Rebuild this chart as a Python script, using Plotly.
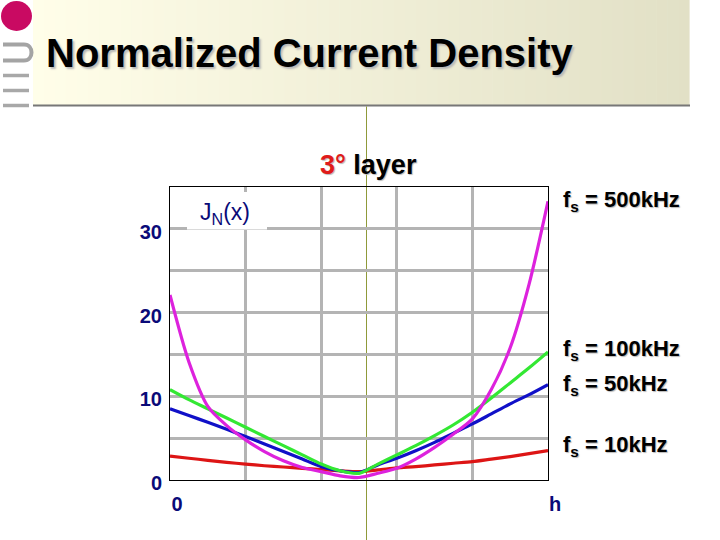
import plotly.graph_objects as go

# --- data ---
X_POS = [0.0, 0.05, 0.1, 0.15, 0.2, 0.25, 0.3, 0.35, 0.4, 0.45, 0.5,
         0.55, 0.6, 0.65, 0.7, 0.75, 0.8, 0.85, 0.9, 0.95, 1.0]
J_10K = [2.85, 2.6, 2.35, 2.1, 1.9, 1.7, 1.55, 1.4, 1.25, 1.1, 1.0,
         1.2, 1.45, 1.6, 1.8, 2.0, 2.2, 2.5, 2.8, 3.15, 3.5]
J_50K = [8.5, 7.7, 6.9, 6.05, 5.2, 4.3, 3.4, 2.5, 1.6, 1.1, 0.9,
         1.8, 2.6, 3.5, 4.5, 5.6, 6.7, 7.9, 9.1, 10.2, 11.4]
J_100K = [10.8, 9.6, 8.5, 7.4, 6.3, 5.2, 4.1, 3.0, 1.9, 1.1, 0.8,
          1.9, 3.0, 4.1, 5.3, 6.6, 8.1, 9.8, 11.6, 13.4, 15.3]
J_500K = [22.1, 14.1, 8.8, 6.5, 4.8, 3.4, 2.3, 1.5, 1.0, 0.5, 0.3,
          0.8, 1.4, 2.5, 3.9, 5.5, 7.3, 10.8, 15.8, 23.4, 33.3]

SERIES = [J_10K, J_50K, J_100K, J_500K]
SERIES_NAMES = ["f<sub>s</sub> = 10kHz", "f<sub>s</sub> = 50kHz",
                "f<sub>s</sub> = 100kHz", "f<sub>s</sub> = 500kHz"]
COLORS = ["#dd1515", "#1010c8", "#33e833", "#dd22dd"]
LABEL_PY = [446, 385, 350, 201]   # pixel rows of the right-hand labels

X_TICKS = [0, 1.0]
X_TICK_TEXT = ["0", "h"]
X_GRID = [0.2, 0.4, 0.6, 0.8]
Y_TICKS = [0, 10, 20, 30]
Y_TICK_TEXT = ["0", "10", "20", "30"]
Y_GRID = [5, 15, 25]

# plot box in pixels
L, R, T, B = 170, 548, 187, 480
W, H = R - L, B - T
def px(p): return (p - L) / W
def py(p): return (B - p) / H

FONT = "Liberation Sans, Arial, sans-serif"
NAVY = "#0a0a78"
GRID = "#b4b4b4"

fig = go.Figure()
for vals, name, col in zip(SERIES, SERIES_NAMES, COLORS):
    fig.add_trace(go.Scatter(x=X_POS, y=vals, mode="lines", name=name,
                             line=dict(color=col, width=3.2, shape="spline", smoothing=0.8)))

shapes = []
# header band (gradient faked with strips)
x0, x1, n = 33, 689, 60
c0, c1 = (255, 254, 233), (226, 224, 198)
for i in range(n):
    t = i / (n - 1)
    c = tuple(round(a + (b - a) * t) for a, b in zip(c0, c1))
    shapes.append(dict(type="rect", xref="paper", yref="paper", layer="below",
                       x0=px(x0 + (x1 - x0) * i / n), x1=px(x0 + (x1 - x0) * (i + 1) / n + 0.6),
                       y0=py(105), y1=py(-2), line_width=0, fillcolor="rgb(%d,%d,%d)" % c))
shapes.append(dict(type="line", xref="paper", yref="paper", layer="below",
                   x0=px(33), x1=px(690), y0=py(105.5), y1=py(105.5),
                   line=dict(color="#777777", width=2)))
# left decorations
shapes.append(dict(type="circle", xref="paper", yref="paper", layer="below",
                   x0=px(1), x1=px(32), y0=py(31), y1=py(1),
                   fillcolor="#c90a62", line_width=0))
shapes.append(dict(type="path", xref="paper", yref="paper", layer="below",
                   path="M %f,%f L %f,%f C %f,%f %f,%f %f,%f L %f,%f" % (
                       px(3), py(44.5), px(24), py(44.5),
                       px(34), py(44.5), px(34), py(60.5), px(24), py(60.5),
                       px(3), py(60.5)),
                   line=dict(color="#a4a4a4", width=4)))
for yy in [75.5, 90.5, 105.5]:
    shapes.append(dict(type="line", xref="paper", yref="paper", layer="below",
                       x0=px(3), x1=px(29), y0=py(yy), y1=py(yy),
                       line=dict(color="#a8a8a8", width=3.5)))
# olive vertical line
shapes.append(dict(type="line", xref="paper", yref="paper", layer="below",
                   x0=px(366.5), x1=px(366.5), y0=py(106.5), y1=py(541),
                   line=dict(color="#8f9a3a", width=1)))
# white patch behind J_N(x)
shapes.append(dict(type="rect", xref="paper", yref="paper", layer="above",
                   x0=px(187), x1=px(267), y0=py(229.5), y1=py(192),
                   fillcolor="white", line_width=0))

ann = []
ann.append(dict(text="Normalized Current Density", xref="paper", yref="paper",
                x=px(44), y=py(53), xanchor="left", yanchor="middle", showarrow=False,
                font=dict(family=FONT, size=40, color="black",
                          weight="bold", shadow="2px 2px 2px #b8b8b8")))
ann.append(dict(text='<span style="color:#e01b1b">3°</span> layer', xref="paper", yref="paper",
                x=px(368), y=py(165), xanchor="center", yanchor="middle", showarrow=False,
                font=dict(family=FONT, size=27, color="black", weight="bold",
                          shadow="1px 1px 1px #b8b8b8")))
ann.append(dict(text="J<sub>N</sub>(x)", xref="paper", yref="paper",
                x=px(225), y=py(213), xanchor="center", yanchor="middle", showarrow=False,
                font=dict(family=FONT, size=23, color=NAVY)))
for name, yy in zip(SERIES_NAMES, LABEL_PY):
    ann.append(dict(text=name, xref="paper", yref="paper", x=px(561), y=py(yy),
                    xanchor="left", yanchor="middle", showarrow=False,
                    font=dict(family=FONT, size=22, color="black", weight="bold",
                              shadow="1px 1px 1px #b8b8b8")))

fig.update_layout(
    width=720, height=540, margin=dict(l=L, r=720 - R, t=T, b=540 - B),
    paper_bgcolor="white", plot_bgcolor="rgba(0,0,0,0)", showlegend=False,
    shapes=shapes, annotations=ann,
    xaxis=dict(range=[0, 1], tickvals=X_TICKS, ticktext=X_TICK_TEXT,
               showgrid=False, zeroline=False,
               minor=dict(tickvals=X_GRID, showgrid=True, gridcolor=GRID, gridwidth=3, ticks=""),
               showline=True, mirror=True, linecolor="black", linewidth=1,
               ticklabelshift=7, ticklabelstandoff=6,
               tickfont=dict(family=FONT, size=20, color=NAVY, weight="bold")),
    yaxis=dict(range=[0, 35], tickvals=Y_TICKS, ticktext=Y_TICK_TEXT,
               showgrid=True, gridcolor=GRID, gridwidth=3, zeroline=False,
               minor=dict(tickvals=Y_GRID, showgrid=True, gridcolor=GRID, gridwidth=3, ticks=""),
               showline=True, mirror=True, linecolor="black", linewidth=1,
               ticklabelstandoff=3, ticklabelshift=3,
               tickfont=dict(family=FONT, size=20, color=NAVY, weight="bold")),
)

fig.write_html("out.html", config={"displayModeBar": False},
               post_script="document.body.style.margin='0px';")
